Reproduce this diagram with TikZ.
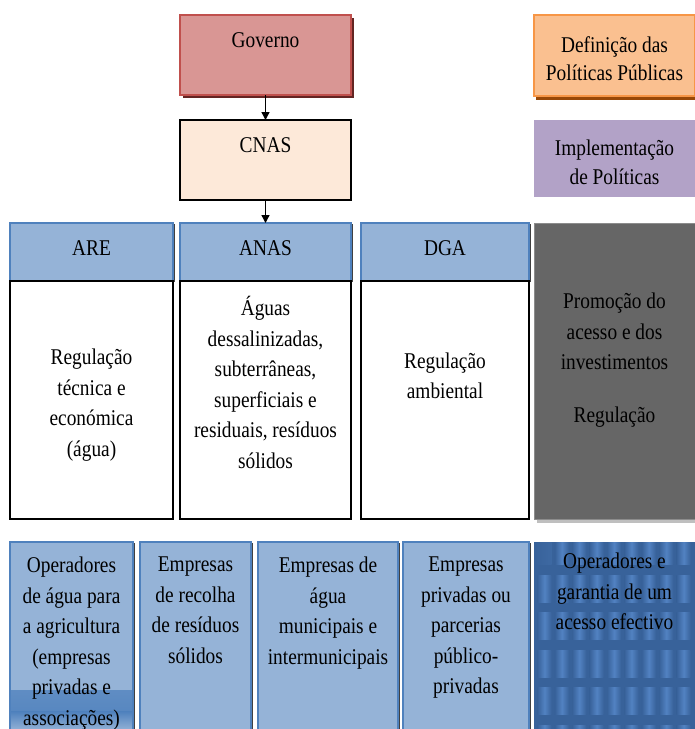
\documentclass[tikz,border=0pt]{standalone}
\usepackage{fontspec}
\setmainfont{Liberation Serif}[FakeStretch=0.86]
\usetikzlibrary{arrows.meta,shadows}
\definecolor{govfill}{HTML}{D99694}
\definecolor{govline}{HTML}{C0504D}
\definecolor{govshadow}{HTML}{632523}
\definecolor{cnasfill}{HTML}{FDE9D9}
\definecolor{hdrfill}{HTML}{95B3D7}
\definecolor{hdrline}{HTML}{4F81BD}
\definecolor{deffill}{HTML}{FAC090}
\definecolor{defline}{HTML}{F79646}
\definecolor{defshadow}{HTML}{984807}
\definecolor{impfill}{HTML}{B2A2C7}
\definecolor{grayfill}{HTML}{666666}
\definecolor{grayshadow}{HTML}{BFBFBF}
\definecolor{tilebase}{HTML}{38629A}
\definecolor{tilelight}{HTML}{5282C2}
\begin{document}
\begin{tikzpicture}[x=1pt,y=-1pt,
  box/.style={rectangle, inner sep=0pt, outer sep=0pt, line width=1.2pt},
  txt/.style={align=center, inner sep=0pt, font=\fontsize{22.5}{30.5}\selectfont},
  edgesh/.style={drop shadow={shadow xshift=1.6pt, shadow yshift=-1.2pt, fill=black!75, opacity=1}},
  hdr/.style={box, fill=hdrfill, draw=hdrline, minimum height=58pt, edgesh},
  body/.style={box, fill=white, draw=black, minimum height=238pt},
  low/.style={box, fill=hdrfill, draw=hdrline, minimum height=193pt, edgesh},
  arr/.style={line width=1.4pt, -{Triangle[width=8pt,length=8pt]}}
]
\useasboundingbox (0,0) rectangle (695,729);
\clip (0,0) rectangle (695,729);

% top column
\node[box, fill=govfill, draw=govline, minimum width=171pt, minimum height=80pt,
  drop shadow={shadow xshift=3pt, shadow yshift=-3pt, fill=govshadow, opacity=1}] (gov) at (265.5,55) {};
\node[txt] (govt) at (265.5,40) {Governo};
\node[box, fill=cnasfill, draw=black, minimum width=171pt, minimum height=80pt] (cnas) at (265.5,160) {};
\node[txt] (cnast) at (265.5,145) {CNAS};

% right column top
\node[box, fill=deffill, draw=defline, minimum width=161pt, minimum height=81pt,
  drop shadow={shadow xshift=2pt, shadow yshift=-4pt, fill=defshadow, opacity=1}] (def) at (614.5,55.5) {};
\node[txt, font=\fontsize{22.5}{28}\selectfont] (deft) at (614.5,58.5) {Definição das\\Políticas Públicas};
\node[box, fill=impfill, minimum width=161pt, minimum height=77pt] (imp) at (614.5,158.5) {};
\node[txt, font=\fontsize{22.5}{29}\selectfont] (impt) at (614.5,162) {Implementação\\de Políticas};

% headers
\node[hdr, minimum width=163pt] (are) at (91.5,252) {};
\node[txt] (aret) at (91.5,248) {ARE};
\node[hdr, minimum width=171pt] (anas) at (265.5,252) {};
\node[txt] (anast) at (265.5,248) {ANAS};
\node[hdr, minimum width=168pt] (dga) at (445,252) {};
\node[txt] (dgat) at (445,248) {DGA};

% bodies
\node[body, minimum width=163pt] (areb) at (91.5,400) {};
\node[txt] (arebt) at (91.5,405) {Regulação\\técnica e\\económica\\(água)};
\node[body, minimum width=171pt] (anasb) at (265.5,400) {};
\node[txt] (anasbt) at (265.5,382.5) {Águas\\dessalinizadas,\\subterrâneas,\\superficiais e\\residuais, resíduos\\sólidos};
\node[body, minimum width=168pt] (dgab) at (445,400) {};
\node[txt] (dgabt) at (445,376) {Regulação\\ambiental};

% gray box
\node[box, fill=grayfill, draw=black!45, line width=0.8pt, minimum width=161pt, minimum height=296pt,
  drop shadow={shadow xshift=3pt, shadow yshift=-4pt, fill=grayshadow, opacity=1}] (gray) at (614.5,371) {};
\node[txt] (grayt) at (614.5,360) {Promoção do\\acesso e dos\\investimentos\\[22pt]Regulação};

% bottom row
\node[low, minimum width=123pt,
  path picture={
    \shade[top color=hdrfill, bottom color=hdrline] (-61.5,52) rectangle (61.5,73);
    \shade[top color=hdrline, bottom color=hdrfill] (-61.5,73) rectangle (61.5,92);
  }] (op) at (71.5,638.5) {};
\node[txt, anchor=north] (opt) at (71.5,557) {Operadores\\de água para\\a agricultura\\(empresas\\privadas e\\associações)};
\node[low, minimum width=111pt] (rec) at (195.5,638.5) {};
\node[txt, anchor=north] (rect) at (195.5,557) {Empresas\\de recolha\\de resíduos\\sólidos};
\node[low, minimum width=140pt] (mun) at (328,638.5) {};
\node[txt, anchor=north] (munt) at (328,557) {Empresas de\\água\\municipais e\\intermunicipais};
\node[low, minimum width=126pt] (priv) at (466,638.5) {};
\node[txt, anchor=north] (privt) at (466,557) {Empresas\\privadas ou\\parcerias\\público-\\privadas};
\node[box, fill=tilebase, minimum width=161pt, minimum height=193pt,
  path picture={
    \foreach \i in {0,...,9}{
      \foreach \j in {0,...,5}{
        \shade[left color=tilebase, right color=tilebase, middle color=tilelight]
          ({-77+\i*17.4},{-101+\j*37.5}) rectangle ++(14,27);
      }
    }
  }] (acc) at (614.5,638.5) {};
\node[txt, anchor=north] (acct) at (614.5,553) {Operadores e\\garantia de um\\acesso efectivo};

% connectors
\draw[arr] (gov.south) -- (cnas.north);
\draw[arr] (cnas.south) -- (anas.north);
\end{tikzpicture}
\end{document}
